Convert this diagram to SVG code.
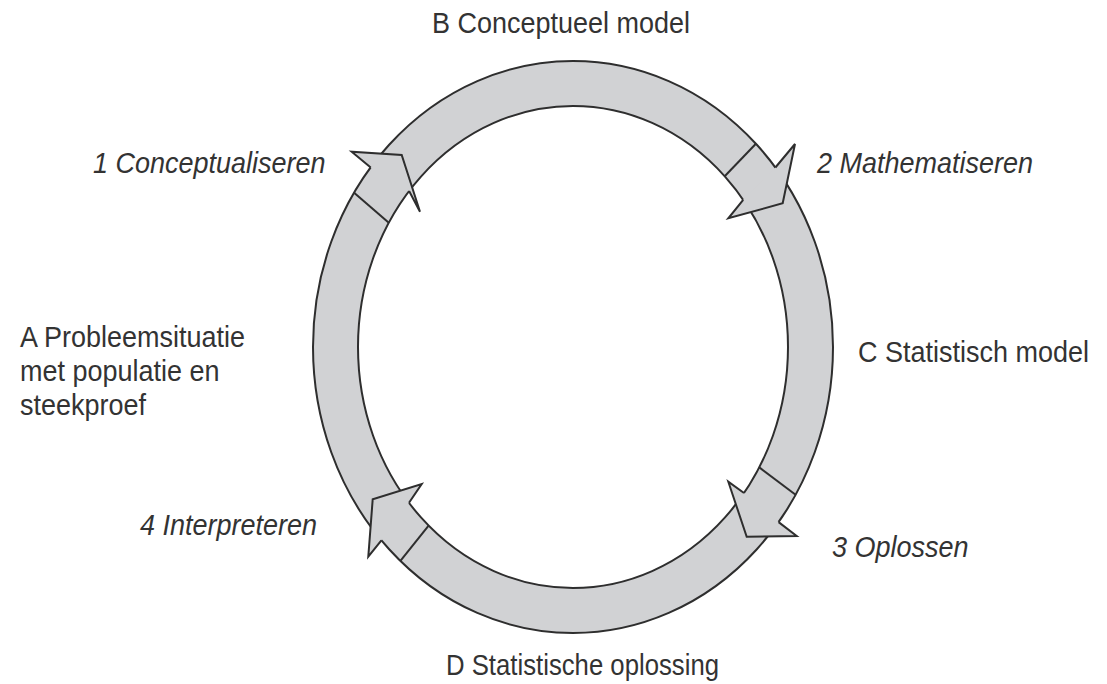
<svg xmlns="http://www.w3.org/2000/svg" width="1107" height="684" viewBox="0 0 1107 684">
<style>
  .ring { fill: #d1d2d4; stroke: #2e2e2e; stroke-width: 2; fill-rule: evenodd; }
  .headfill { fill: #d1d2d4; stroke: none; }
  .edge { fill: none; stroke: #2e2e2e; stroke-width: 2; stroke-linejoin: miter; }
  .lbl { font-family: "Liberation Sans", Arial, sans-serif; font-size: 27px; fill: #333333; }
  .it { font-style: italic; }
</style>
<rect width="1107" height="684" fill="#ffffff"/>
<g id="cycle-ring">
  <path class="ring" d="M313,347 A260,286 0 1,0 833,347 A260,286 0 1,0 313,347 Z M358,347 A215,241 0 1,0 788,347 A215,241 0 1,0 358,347 Z"/>
</g>
<g id="connectors">
  <g id="arrow-1">
    <polygon class="headfill" points="370.7,167.4 351.7,151.7 401.7,155 420,211.7 409.1,191"/>
    <polyline class="edge" points="370.7,167.4 351.7,151.7 401.7,155 420,211.7 409.1,191"/>
    <line class="edge" x1="354.1" y1="192.7" x2="388.8" y2="222.7"/>
  </g>
  <g id="arrow-2">
    <polygon class="headfill" points="775.4,167.5 795,144 782.7,203.3 728.3,218.3 743.2,199.8"/>
    <polyline class="edge" points="775.4,167.5 795,144 782.7,203.3 728.3,218.3 743.2,199.8"/>
    <line class="edge" x1="755.9" y1="143.7" x2="724.7" y2="176.2"/>
  </g>
  <g id="arrow-3">
    <polygon class="headfill" points="778.6,522.1 796.7,536 746.7,536.7 728.3,481.7 744,493"/>
    <polyline class="edge" points="778.6,522.1 796.7,536 746.7,536.7 728.3,481.7 744,493"/>
    <line class="edge" x1="795.6" y1="494.7" x2="759.3" y2="467.4"/>
  </g>
  <g id="arrow-4">
    <polygon class="headfill" points="381.4,540.3 368.3,556.7 372.7,499.3 421.7,484 409,502.8"/>
    <polyline class="edge" points="381.4,540.3 368.3,556.7 372.7,499.3 421.7,484 409,502.8"/>
    <line class="edge" x1="400.4" y1="560.9" x2="428.6" y2="525.6"/>
  </g>
</g>
<g id="node-B">
  <text class="lbl" transform="matrix(1 0 0 1.1 432 33)">B Conceptueel model</text>
</g>
<g id="node-A">
  <text class="lbl" transform="matrix(1 0 0 1.1 20 347)">A Probleemsituatie</text>
  <text class="lbl" transform="matrix(1 0 0 1.1 20 381)">met populatie en</text>
  <text class="lbl" transform="matrix(1 0 0 1.1 20 415)">steekproef</text>
</g>
<g id="node-C">
  <text class="lbl" transform="matrix(1 0 0 1.1 858 362)">C Statistisch model</text>
</g>
<g id="node-D">
  <text class="lbl" transform="matrix(1 0 0 1.1 446 675)" textLength="273" lengthAdjust="spacingAndGlyphs">D Statistische oplossing</text>
</g>
<g id="label-1">
  <text class="lbl it" transform="matrix(1 0 0 1.1 93 173)">1 Conceptualiseren</text>
</g>
<g id="label-2">
  <text class="lbl it" transform="matrix(1 0 0 1.1 817 173)">2 Mathematiseren</text>
</g>
<g id="label-3">
  <text class="lbl it" transform="matrix(1 0 0 1.1 832 557)">3 Oplossen</text>
</g>
<g id="label-4">
  <text class="lbl it" transform="matrix(1 0 0 1.1 140 535)">4 Interpreteren</text>
</g>
</svg>
